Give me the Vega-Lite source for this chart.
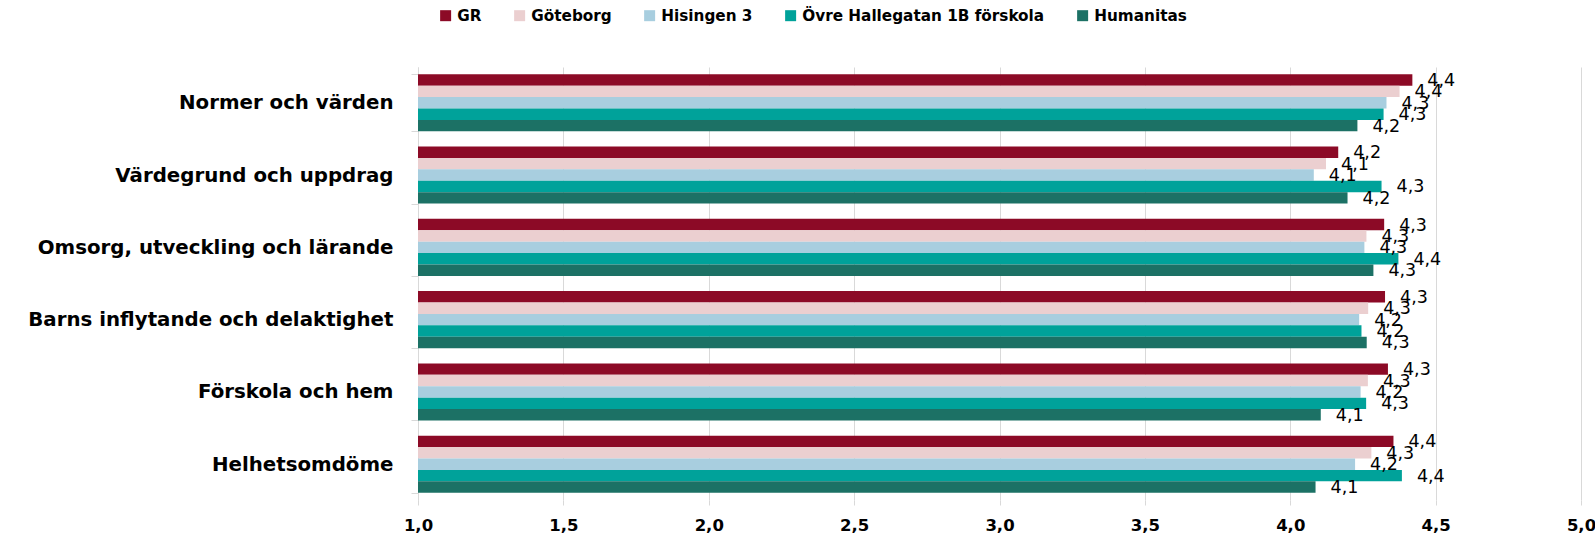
{
  "$schema": "https://vega.github.io/schema/vega-lite/v6.json",
  "width": 1163,
  "height": 433,
  "autosize": {"type": "none"},
  "padding": {"left": 418, "top": 67, "right": 14, "bottom": 33},
  "background": "white",
  "config": {
    "locale": {"number": {"decimal": ",", "thousands": " ", "grouping": [3], "currency": ["", " kr"]}},
    "view": {"stroke": null},
    "font": "DejaVu Sans"
  },
  "data": {
    "values": [
      {"kategori": "Normer och värden", "enhet": "GR", "varde": 4.42},
      {"kategori": "Normer och värden", "enhet": "Göteborg", "varde": 4.376},
      {"kategori": "Normer och värden", "enhet": "Hisingen 3", "varde": 4.331},
      {"kategori": "Normer och värden", "enhet": "Övre Hallegatan 1B förskola", "varde": 4.321},
      {"kategori": "Normer och värden", "enhet": "Humanitas", "varde": 4.231},
      {"kategori": "Värdegrund och uppdrag", "enhet": "GR", "varde": 4.165},
      {"kategori": "Värdegrund och uppdrag", "enhet": "Göteborg", "varde": 4.123},
      {"kategori": "Värdegrund och uppdrag", "enhet": "Hisingen 3", "varde": 4.081},
      {"kategori": "Värdegrund och uppdrag", "enhet": "Övre Hallegatan 1B förskola", "varde": 4.314},
      {"kategori": "Värdegrund och uppdrag", "enhet": "Humanitas", "varde": 4.197},
      {"kategori": "Omsorg, utveckling och lärande", "enhet": "GR", "varde": 4.323},
      {"kategori": "Omsorg, utveckling och lärande", "enhet": "Göteborg", "varde": 4.262},
      {"kategori": "Omsorg, utveckling och lärande", "enhet": "Hisingen 3", "varde": 4.255},
      {"kategori": "Omsorg, utveckling och lärande", "enhet": "Övre Hallegatan 1B förskola", "varde": 4.372},
      {"kategori": "Omsorg, utveckling och lärande", "enhet": "Humanitas", "varde": 4.286},
      {"kategori": "Barns inflytande och delaktighet\u00a0", "enhet": "GR", "varde": 4.326},
      {"kategori": "Barns inflytande och delaktighet\u00a0", "enhet": "Göteborg", "varde": 4.268},
      {"kategori": "Barns inflytande och delaktighet\u00a0", "enhet": "Hisingen 3", "varde": 4.237},
      {"kategori": "Barns inflytande och delaktighet\u00a0", "enhet": "Övre Hallegatan 1B förskola", "varde": 4.245},
      {"kategori": "Barns inflytande och delaktighet\u00a0", "enhet": "Humanitas", "varde": 4.263},
      {"kategori": "Förskola och hem\u00a0", "enhet": "GR", "varde": 4.336},
      {"kategori": "Förskola och hem\u00a0", "enhet": "Göteborg", "varde": 4.267},
      {"kategori": "Förskola och hem\u00a0", "enhet": "Hisingen 3", "varde": 4.242},
      {"kategori": "Förskola och hem\u00a0", "enhet": "Övre Hallegatan 1B förskola", "varde": 4.261},
      {"kategori": "Förskola och hem\u00a0", "enhet": "Humanitas", "varde": 4.105},
      {"kategori": "Helhetsomdöme", "enhet": "GR", "varde": 4.355},
      {"kategori": "Helhetsomdöme", "enhet": "Göteborg", "varde": 4.279},
      {"kategori": "Helhetsomdöme", "enhet": "Hisingen 3", "varde": 4.223},
      {"kategori": "Helhetsomdöme", "enhet": "Övre Hallegatan 1B förskola", "varde": 4.384},
      {"kategori": "Helhetsomdöme", "enhet": "Humanitas", "varde": 4.087}
    ]
  },
  "encoding": {
    "y": {
      "field": "kategori",
      "type": "nominal",
      "sort": ["Normer och värden", "Värdegrund och uppdrag", "Omsorg, utveckling och lärande", "Barns inflytande och delaktighet\u00a0", "Förskola och hem\u00a0", "Helhetsomdöme"],
      "scale": {"paddingInner": 0.21, "paddingOuter": 0.1},
      "axis": {
        "title": null,
        "labelFontSize": 19.8,
        "labelFontWeight": "bold",
        "labelColor": "#000000",
        "labelFont": "DejaVu Sans",
        "labelPadding": 18,
        "labelLimit": 600,
        "ticks": true,
        "tickBand": "extent",
        "tickSize": 7,
        "tickColor": "#d9d9d9",
        "domainColor": "#d9d9d9",
        "grid": false
      }
    },
    "yOffset": {
      "field": "enhet",
      "type": "nominal",
      "sort": ["GR", "Göteborg", "Hisingen 3", "Övre Hallegatan 1B förskola", "Humanitas"],
      "scale": {"paddingInner": 0, "paddingOuter": 0}
    },
    "x": {
      "field": "varde",
      "type": "quantitative",
      "scale": {"domain": [1, 5], "nice": false, "zero": false},
      "axis": {
        "title": null,
        "values": [1, 1.5, 2, 2.5, 3, 3.5, 4, 4.5, 5],
        "format": ".1f",
        "grid": true,
        "gridColor": "#d9d9d9",
        "domain": false,
        "ticks": true,
        "tickColor": "#d9d9d9",
        "tickSize": 5,
        "labelFont": "DejaVu Sans",
        "labelFontSize": 16.5,
        "labelFontWeight": "bold",
        "labelColor": "#000000",
        "labelPadding": 12,
        "labelFlush": false
      }
    }
  },
  "layer": [
    {
      "mark": {"type": "bar"},
      "encoding": {
        "x2": {"datum": 1},
        "color": {
          "field": "enhet",
          "type": "nominal",
          "sort": ["GR", "Göteborg", "Hisingen 3", "Övre Hallegatan 1B förskola", "Humanitas"],
          "scale": {
            "domain": ["GR", "Göteborg", "Hisingen 3", "Övre Hallegatan 1B förskola", "Humanitas"],
            "range": ["#8C0A26", "#EBCFD0", "#A8CEDF", "#00A29A", "#1C7165"]
          },
          "legend": {
            "orient": "none",
            "legendX": 20,
            "legendY": -59,
            "direction": "horizontal",
            "columns": 5,
            "title": null,
            "symbolType": "square",
            "symbolSize": 121,
            "symbolStrokeWidth": 0,
            "labelFontSize": 15.25,
            "labelFontWeight": "bold",
            "labelColor": "#000000",
            "labelFont": "DejaVu Sans",
            "labelOffset": 4,
            "columnPadding": 30,
            "labelLimit": 400
          }
        }
      }
    },
    {
      "mark": {"type": "text", "align": "left", "baseline": "middle", "dx": 15, "dy": 1, "fontSize": 17.5, "font": "DejaVu Sans", "color": "#000000"},
      "encoding": {
        "text": {"field": "varde", "type": "quantitative", "format": ".1f"}
      }
    }
  ]
}
